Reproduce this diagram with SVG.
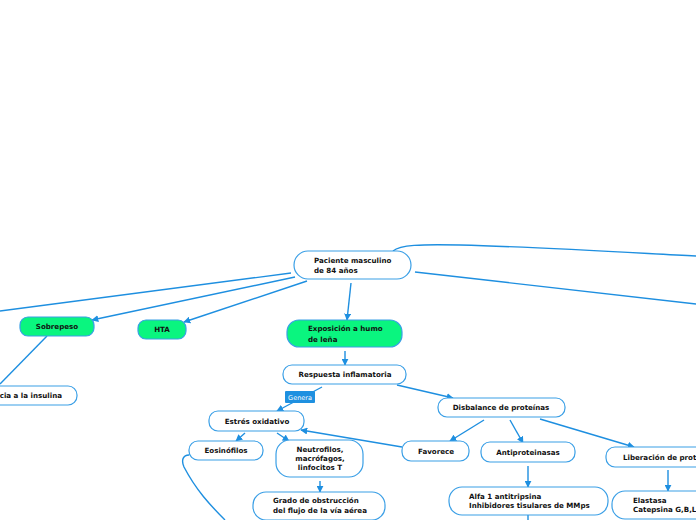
<svg xmlns="http://www.w3.org/2000/svg" width="696" height="520" viewBox="0 0 696 520">
<defs>
<style>
.n{fill:#fff;stroke:#3a9fe6;stroke-width:1.2}
.g{fill:#0af57f;stroke:#3a9fe6;stroke-width:1.2}
.t{font-family:"DejaVu Sans",Verdana,sans-serif;font-weight:bold;font-size:7.1px;fill:#111}
.c{text-anchor:middle}
.e{fill:none;stroke:#1e8fe0;stroke-width:1.4}
.a{marker-end:url(#ar)}
</style>
<marker id="ar" viewBox="0 0 10 10" refX="9" refY="5" markerWidth="7" markerHeight="7" markerUnits="userSpaceOnUse" orient="auto">
<path d="M0,0 L10,5 L0,10 z" fill="#1e8fe0"/>
</marker>
</defs>
<rect width="696" height="520" fill="#fff"/>
<g id="connectors">
<path class="e" d="M291,273 L0,311"/>
<path class="e a" d="M295,277 L92,320"/>
<path class="e a" d="M307,281 L184,322"/>
<path class="e a" d="M351,283 L347,320"/>
<path class="e" d="M393,251 C400,245 420,244 460,245 C540,247 620,252 696,256"/>
<path class="e" d="M415,272 L696,304"/>
<path class="e" d="M47,336 L0,384"/>
<path class="e a" d="M345,351 L345,365"/>
<path class="e a" d="M322,387 L277,411"/>
<path class="e a" d="M397,385 L453,398"/>
<path class="e a" d="M245,433 L236,441"/>
<path class="e a" d="M277,433 L289,441"/>
<path class="e a" d="M402,447 L301,430"/>
<path class="e a" d="M320,481 L320,492"/>
<path class="e a" d="M484,420 L450,441"/>
<path class="e a" d="M510,420 L523,443"/>
<path class="e a" d="M540,419 L634,447"/>
<path class="e a" d="M528,466 L528,487"/>
<path class="e" d="M528,515 L528,520"/>
<path class="e a" d="M668,470 L668,491"/>
<path class="e" d="M189,455 C183,455 181,460 184,467 C196,490 210,505 225,520"/>
</g>
<g id="paciente"><rect class="n" x="294" y="251" width="117" height="28" rx="14"/><text class="t" x="314" y="263">Paciente masculino</text><text class="t" x="314" y="273">de 84 años</text></g>
<g id="sobrepeso"><rect class="g" x="20" y="317" width="74" height="19" rx="8"/><text class="t c" x="57" y="329">Sobrepeso</text></g>
<g id="hta"><rect class="g" x="138" y="320" width="48" height="19" rx="8"/><text class="t c" x="162" y="332">HTA</text></g>
<g id="exposicion"><rect class="g" x="287" y="320" width="115" height="27" rx="12"/><text class="t" x="308" y="331">Exposición a humo</text><text class="t" x="308" y="342">de leña</text></g>
<g id="resistencia"><rect class="n" x="-60" y="386" width="137" height="19" rx="9"/><text class="t" x="62" y="398" text-anchor="end">Resistencia a la insulina</text></g>
<g id="respuesta"><rect class="n" x="283" y="365" width="123" height="19" rx="9"/><text class="t c" x="345" y="377">Respuesta inflamatoria</text></g>
<g id="genera"><rect x="285" y="391" width="30" height="12" rx="1" fill="#1e90e0"/><text x="300" y="400" text-anchor="middle" font-family="DejaVu Sans,Verdana,sans-serif" font-size="6.5" fill="#fff">Genera</text></g>
<g id="estres"><rect class="n" x="209" y="411" width="95" height="20" rx="9"/><text class="t c" x="257" y="424">Estrés oxidativo</text></g>
<g id="eosinofilos"><rect class="n" x="189" y="441" width="74" height="19" rx="9"/><text class="t c" x="226" y="453">Eosinófilos</text></g>
<g id="neutrofilos"><rect class="n" x="276" y="440" width="87" height="37" rx="14"/><text class="t c" x="320" y="452">Neutrofilos,</text><text class="t c" x="320" y="461">macrófagos,</text><text class="t c" x="320" y="470">linfocitos T</text></g>
<g id="grado"><rect class="n" x="253" y="492" width="132" height="28" rx="13"/><text class="t" x="273" y="503">Grado de obstrucción</text><text class="t" x="273" y="513">del flujo de la vía aérea</text></g>
<g id="disbalance"><rect class="n" x="438" y="398" width="127" height="19" rx="9"/><text class="t c" x="501" y="410">Disbalance de proteínas</text></g>
<g id="favorece"><rect class="n" x="402" y="441" width="67" height="20" rx="9"/><text class="t c" x="436" y="454">Favorece</text></g>
<g id="antiproteinasas"><rect class="n" x="481" y="442" width="94" height="20" rx="9"/><text class="t c" x="528" y="455">Antiproteinasas</text></g>
<g id="liberacion"><rect class="n" x="606" y="447" width="110" height="20" rx="9"/><text class="t" x="623" y="460">Liberación de proteasas</text></g>
<g id="alfa"><rect class="n" x="449" y="487" width="159" height="28" rx="13"/><text class="t" x="469" y="499">Alfa 1 antitripsina</text><text class="t" x="469" y="508">Inhibidores tisulares de MMps</text></g>
<g id="elastasa"><rect class="n" x="612" y="491" width="110" height="28" rx="13"/><text class="t" x="633" y="503">Elastasa</text><text class="t" x="633" y="512">Catepsina G,B,L,</text></g>
</svg>
